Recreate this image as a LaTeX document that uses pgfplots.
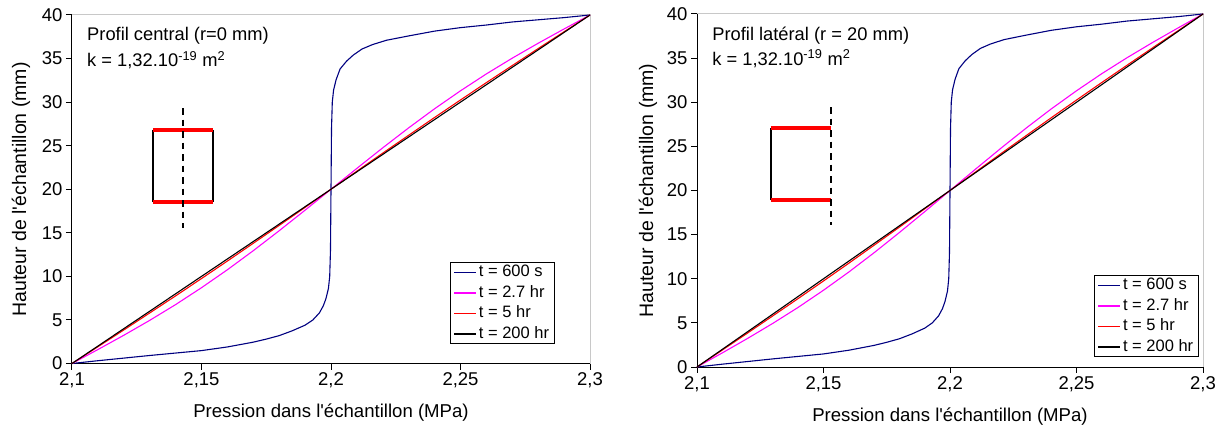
\documentclass[border=0pt]{standalone}
\usepackage{fontspec}
\setmainfont{Liberation Sans}
\usepackage{pgfplots}
\pgfplotsset{compat=1.18}
\usepackage{pgfplotstable}

\definecolor{navy}{HTML}{000080}
\definecolor{mag}{HTML}{FF00FF}
\definecolor{frame}{HTML}{C8C8C8}

\pgfplotstableread{
x y
2.1000 0.00
2.1100 0.32
2.1200 0.62
2.1300 0.92
2.1400 1.20
2.1500 1.48
2.1600 1.90
2.1700 2.45
2.1750 2.80
2.1800 3.20
2.1850 3.75
2.1900 4.40
2.1930 5.00
2.1955 5.80
2.1970 6.60
2.1980 7.40
2.1990 8.60
2.1995 10.00
2.1998 13.00
2.2000 20.00
2.2002 27.00
2.2005 30.00
2.2010 31.40
2.2020 32.60
2.2035 33.80
2.2060 34.70
2.2086 35.40
2.2120 36.10
2.2160 36.60
2.2214 37.10
2.2300 37.60
2.2400 38.15
2.2500 38.55
2.2600 38.85
2.2700 39.20
2.2800 39.45
2.2900 39.70
2.3000 40.00
}\tblue

\pgfplotstableread{
x y
2.10 0.00
2.11 1.60
2.12 3.24
2.13 4.95
2.14 6.76
2.15 8.70
2.16 10.76
2.17 12.95
2.18 15.24
2.19 17.60
2.20 20.00
2.21 22.40
2.22 24.76
2.23 27.05
2.24 29.24
2.25 31.30
2.26 33.24
2.27 35.05
2.28 36.76
2.29 38.40
2.30 40.00
}\tmag

\pgfplotstableread{
x y
2.10 0.00
2.11 1.92
2.12 3.85
2.13 5.80
2.14 7.76
2.15 9.75
2.16 11.76
2.17 13.80
2.18 15.85
2.19 17.92
2.20 20.00
2.21 22.08
2.22 24.15
2.23 26.20
2.24 28.24
2.25 30.25
2.26 32.24
2.27 34.20
2.28 36.15
2.29 38.08
2.30 40.00
}\tred

\pgfplotstableread{
x y
2.10 0
2.30 40
}\tblack

\newcommand{\ap}{\textquotesingle}

\pgfplotsset{
  mystyle/.style={
    scale only axis,
    xmin=2.1, xmax=2.3, ymin=0, ymax=40,
    axis x line*=bottom, axis y line*=left,
    axis line style={-, black, line width=1pt},
    xtick={2.1,2.15,2.2,2.25,2.3},
    xticklabels={{2,1},{2,15},{2,2},{2,25},{2,3}},
    ytick={0,5,...,40},
    tick align=outside,
    major tick length=6pt,
    tick style={black, line width=1pt},
    /pgf/number format/assume math mode=true,
    tick label style={font=\fontsize{18.5}{21}\selectfont},
    xlabel style={font=\fontsize{18.6}{21}\selectfont},
    ylabel style={font=\fontsize{19.5}{22}\selectfont},
    xlabel={Pression dans l\ap échantillon (MPa)},
    ylabel={Hauteur de l\ap échantillon (mm)},
    clip=false,
    legend cell align=left,
    legend style={draw=black, line width=0.8pt, fill=white,
      font=\fontsize{16.5}{19}\selectfont,
      inner xsep=3pt, inner ysep=2pt, row sep=5pt,
      nodes={inner ysep=0pt, inner xsep=2pt, text height=12pt, text depth=3.5pt}},
    legend image code/.code={\draw[#1, line width=1.4pt] (0pt,0pt) -- (22pt,0pt);},
  }
}

\begin{document}
\begin{tikzpicture}[x=1pt,y=1pt]
\path[use as bounding box] (0,0) rectangle (1226,-435);

% ---------------- Panel 1 ----------------
\begin{axis}[mystyle,
  at={(72pt,-363.5pt)}, anchor=south west,
  width=518pt, height=348.5pt,
  xlabel style={at={(axis description cs:0.5,-0.14)}, anchor=center},
  ylabel style={at={(axis description cs:-0.0985,0.5)}, anchor=center},
  legend style={at={(axis description cs:0.73,0.056)}, anchor=south west},
]
\draw[frame, line width=1pt] (rel axis cs:0,1) -- (rel axis cs:1,1) -- (rel axis cs:1,0);
% inset sketch
\addplot[forget plot, black, line width=2.3pt] coordinates {(2.1313,18.54) (2.1313,26.8)};
\addplot[forget plot, black, line width=2.3pt] coordinates {(2.1544,18.54) (2.1544,26.8)};
\addplot[forget plot, red, line width=4pt] coordinates {(2.1313,26.8) (2.1544,26.8)};
\addplot[forget plot, red, line width=4pt] coordinates {(2.1313,18.54) (2.1544,18.54)};
\addplot[forget plot, black, line width=2.3pt, dash pattern=on 6.5pt off 5pt] coordinates {(2.1429,29.3) (2.1429,15.55)};
% curves
\addplot[navy, line width=1.1pt] table {\tblue};
\addlegendentry{t = 600 s}
\addplot[mag, line width=1.1pt] table {\tmag};
\addlegendentry{t = 2.7 hr}
\addplot[red, line width=1.1pt] table {\tred};
\addlegendentry{t = 5 hr}
\addplot[black, line width=1.1pt] table {\tblack};
\addlegendentry{t = 200 hr}
\node[anchor=base west, font=\fontsize{18.3}{21}\selectfont, inner sep=0pt] at (axis description cs:0.029,0.926) {Profil central (r=0 mm)};
\node[anchor=base west, font=\fontsize{18.3}{21}\selectfont, inner sep=0pt] at (axis description cs:0.029,0.852) {k = 1,32.10\textsuperscript{-19} m\textsuperscript{2}};
\end{axis}

% ---------------- Panel 2 ----------------
\begin{axis}[mystyle,
  at={(697pt,-367pt)}, anchor=south west,
  width=506pt, height=353pt,
  xlabel style={at={(axis description cs:0.5,-0.14)}, anchor=center},
  ylabel style={at={(axis description cs:-0.097,0.5)}, anchor=center},
  legend style={at={(axis description cs:0.785,0.028)}, anchor=south west},
]
\draw[frame, line width=1pt] (rel axis cs:0,1) -- (rel axis cs:1,1) -- (rel axis cs:1,0);
% inset sketch
\addplot[forget plot, black, line width=2.3pt] coordinates {(2.1292,18.87) (2.1292,27.03)};
\addplot[forget plot, red, line width=4pt] coordinates {(2.1292,27.03) (2.1529,27.03)};
\addplot[forget plot, red, line width=4pt] coordinates {(2.1292,18.87) (2.1529,18.87)};
\addplot[forget plot, black, line width=2.3pt, dash pattern=on 6.5pt off 5pt] coordinates {(2.1529,29.46) (2.1529,16.1)};
% curves
\addplot[navy, line width=1.1pt] table {\tblue};
\addlegendentry{t = 600 s}
\addplot[mag, line width=1.1pt] table {\tmag};
\addlegendentry{t = 2.7 hr}
\addplot[red, line width=1.1pt] table {\tred};
\addlegendentry{t = 5 hr}
\addplot[black, line width=1.1pt] table {\tblack};
\addlegendentry{t = 200 hr}
\node[anchor=base west, font=\fontsize{18.3}{21}\selectfont, inner sep=0pt] at (axis description cs:0.030,0.926) {Profil latéral (r = 20 mm)};
\node[anchor=base west, font=\fontsize{18.3}{21}\selectfont, inner sep=0pt] at (axis description cs:0.030,0.855) {k = 1,32.10\textsuperscript{-19} m\textsuperscript{2}};
\end{axis}
\end{tikzpicture}
\end{document}
